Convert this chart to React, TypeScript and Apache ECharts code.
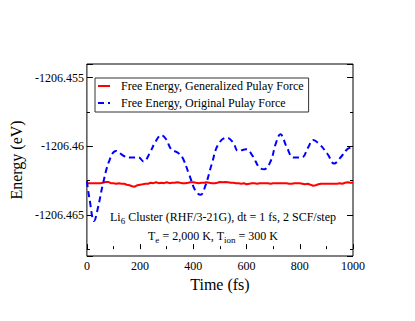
import React, { useEffect, useRef } from 'react';
import * as echarts from 'echarts';

const FONT = 'Liberation Serif';

const seriesNames = [
  'Free Energy, Generalized Pulay Force',
  'Free Energy, Original Pulay Force',
];

const redTimes = [
  0, 10, 20, 30, 40, 50, 60, 70, 80, 90,
  100, 110, 120, 130, 140, 150, 160, 170, 180, 190,
  200, 210, 220, 230, 240, 250, 260, 270, 280, 290,
  300, 310, 320, 330, 340, 350, 360, 370, 380, 390,
  400, 410, 420, 430, 440, 450, 460, 470, 480, 490,
  500, 510, 520, 530, 540, 550, 560, 570, 580, 590,
  600, 610, 620, 630, 640, 650, 660, 670, 680, 690,
  700, 710, 720, 730, 740, 750, 760, 770, 780, 790,
  800, 810, 820, 830, 840, 850, 860, 870, 880, 890,
  900, 910, 920, 930, 940, 950, 960, 970, 980, 990, 1000,
];

const redValues = [
  -1206.46269, -1206.46269, -1206.46269, -1206.46269, -1206.46269, -1206.46269, -1206.46266, -1206.4626, -1206.4626, -1206.46269,
  -1206.46269, -1206.46273, -1206.46269, -1206.46273, -1206.46273, -1206.4628, -1206.46284, -1206.46291, -1206.46295, -1206.46284,
  -1206.4628, -1206.46277, -1206.46273, -1206.46273, -1206.46266, -1206.46269, -1206.46262, -1206.46269, -1206.46266, -1206.46269,
  -1206.46262, -1206.46269, -1206.46266, -1206.46266, -1206.46262, -1206.46266, -1206.46269, -1206.46269, -1206.46266, -1206.46262,
  -1206.46262, -1206.46266, -1206.46269, -1206.46266, -1206.46266, -1206.46262, -1206.46266, -1206.46269, -1206.46269, -1206.46266,
  -1206.4626, -1206.46262, -1206.4626, -1206.46262, -1206.46266, -1206.46266, -1206.46269, -1206.46269, -1206.46273, -1206.46269,
  -1206.46277, -1206.46273, -1206.46269, -1206.46269, -1206.46273, -1206.46269, -1206.46269, -1206.46269, -1206.46269, -1206.46273,
  -1206.46269, -1206.46269, -1206.46269, -1206.46269, -1206.46269, -1206.46269, -1206.46273, -1206.46273, -1206.46269, -1206.46269,
  -1206.46269, -1206.46273, -1206.46277, -1206.46273, -1206.4628, -1206.46288, -1206.46284, -1206.46277, -1206.46273, -1206.46273,
  -1206.46273, -1206.46273, -1206.46273, -1206.46273, -1206.46273, -1206.46269, -1206.46273, -1206.46266, -1206.46262, -1206.46266, -1206.46266,
];

const blueTimes = [
  0, 10, 27, 42, 60, 84, 109, 139, 164, 194,
  213, 237, 256, 280, 298, 317, 341, 359, 384, 408,
  427, 445, 469, 494, 526, 550, 568, 599, 623, 648,
  666, 691, 709, 727, 752, 776, 807, 831, 850, 874,
  905, 929, 953, 978, 990,
];

const blueValues = [
  -1206.46255, -1206.46386, -1206.46544, -1206.46444, -1206.46277, -1206.46107, -1206.46034, -1206.46071, -1206.46082, -1206.46082,
  -1206.46111, -1206.46046, -1206.45973, -1206.45918, -1206.45949, -1206.46022, -1206.46046, -1206.46082, -1206.46204, -1206.46325,
  -1206.46354, -1206.46289, -1206.46131, -1206.45985, -1206.45937, -1206.45973, -1206.46034, -1206.46022, -1206.46071, -1206.46155,
  -1206.46167, -1206.46107, -1206.45985, -1206.45913, -1206.4601, -1206.46082, -1206.46082, -1206.4601, -1206.45954, -1206.45985,
  -1206.46058, -1206.46126, -1206.46082, -1206.46022, -1206.46011,
];

const xTicks = { min: 0, max: 1000, interval: 200 };
const yRange = { min: -1206.468, max: -1206.454, major: 0.005 };

export default function App() {
  const ref = useRef<HTMLDivElement>(null);
  useEffect(() => {
    if (!ref.current) return;
    const chart = echarts.init(ref.current, null, { renderer: 'svg' });
    const tickStyle = { color: '#000', width: 1 };
    const labelFont = { fontFamily: FONT, fontSize: 12, color: '#000', fontWeight: 'normal' as const };
    const nameFont = { fontFamily: FONT, fontSize: 16, color: '#000', fontWeight: 'normal' as const };
    const yMinorCommon = {
      type: 'value' as const,
      min: -1,
      max: 27,
      splitNumber: 3,
      axisLine: { show: false },
      axisLabel: { show: false },
      splitLine: { show: false },
      axisTick: { show: true, inside: true, length: 3, lineStyle: tickStyle },
    };
    const yMajorCommon = {
      type: 'value' as const,
      min: yRange.min,
      max: yRange.max,
      splitNumber: 3,
      axisLine: { show: false },
      splitLine: { show: false },
      axisTick: { show: true, inside: true, length: 6, lineStyle: tickStyle },
    };
    chart.setOption({
      animation: false,
      textStyle: { fontFamily: FONT, color: '#000' },
      grid: {
        left: 80,
        right: 62,
        top: 64,
        bottom: 65,
        show: true,
        borderColor: '#000',
        borderWidth: 1,
        backgroundColor: 'transparent',
      },
      legend: {
        data: seriesNames,
        orient: 'vertical',
        left: 95,
        top: 78,
        padding: [2, 5, 3, 2],
        itemGap: 5,
        itemWidth: 12,
        itemHeight: 4,
        itemStyle: { opacity: 0 },
        borderColor: '#333',
        borderWidth: 1,
        selectedMode: false,
        textStyle: { ...labelFont, padding: [0, 0, 0, 6] },
      },
      xAxis: {
        type: 'value',
        min: xTicks.min,
        max: xTicks.max,
        interval: xTicks.interval,
        axisLine: { show: false },
        splitLine: { show: false },
        axisTick: { show: true, inside: true, length: 5, lineStyle: tickStyle },
        minorTick: { show: true, splitNumber: 2, length: 3, lineStyle: tickStyle },
        axisLabel: {
          ...labelFont,
          margin: 4,
          showMinLabel: true,
          showMaxLabel: true,
          formatter: (v: number) => String(v),
        },
        name: 'Time (fs)',
        nameLocation: 'middle',
        nameGap: 14,
        nameTextStyle: { ...nameFont, verticalAlign: 'top' },
      },
      yAxis: [
        {
          ...yMajorCommon,
          position: 'left',
          axisLabel: {
            ...labelFont,
            margin: 3,
            showMinLabel: true,
            showMaxLabel: true,
            formatter: (v: number) => {
              const k = v / yRange.major;
              return Math.abs(k - Math.round(k)) < 1e-4 ? String(Number(v.toFixed(3))) : '';
            },
          },
          name: 'Energy (eV)',
          nameLocation: 'middle',
          nameGap: 55,
          nameTextStyle: nameFont,
        },
        { ...yMinorCommon, position: 'left' },
        { ...yMajorCommon, position: 'right', axisLabel: { show: false } },
        { ...yMinorCommon, position: 'right' },
      ],
      graphic: [
        {
          type: 'text',
          x: 223,
          y: 217,
          style: {
            text: 'Li{sub|6} Cluster (RHF/3-21G), dt = 1 fs, 2 SCF/step',
            fontFamily: FONT,
            fontSize: 12,
            fill: '#000',
            align: 'center',
            verticalAlign: 'middle',
            rich: { sub: { fontFamily: FONT, fontSize: 9, fill: '#000', padding: [7, 0, 0, 0] } },
          },
        },
        {
          type: 'text',
          x: 213,
          y: 236,
          style: {
            text: 'T{sub|e} = 2,000 K, T{sub|ion} = 300 K',
            fontFamily: FONT,
            fontSize: 12,
            fill: '#000',
            align: 'center',
            verticalAlign: 'middle',
            rich: { sub: { fontFamily: FONT, fontSize: 9, fill: '#000', padding: [7, 0, 0, 0] } },
          },
        },
      ],
      series: [
        {
          name: seriesNames[0],
          type: 'line',
          yAxisIndex: 0,
          data: redTimes.map((t, i) => [t, redValues[i]]),
          symbol: 'none',
          lineStyle: { color: '#ff0000', width: 2 },
          itemStyle: { color: '#ff0000' },
          z: 3,
        },
        {
          name: seriesNames[1],
          type: 'line',
          yAxisIndex: 0,
          data: blueTimes.map((t, i) => [t, blueValues[i]]),
          symbol: 'none',
          smooth: 0.4,
          lineStyle: { color: '#0000ff', width: 2, type: [6, 4] },
          itemStyle: { color: '#0000ff' },
          z: 4,
        },
      ],
    });
    return () => chart.dispose();
  }, []);
  return <div ref={ref} style={{ width: 415, height: 321, margin: -8 }} />;
}
